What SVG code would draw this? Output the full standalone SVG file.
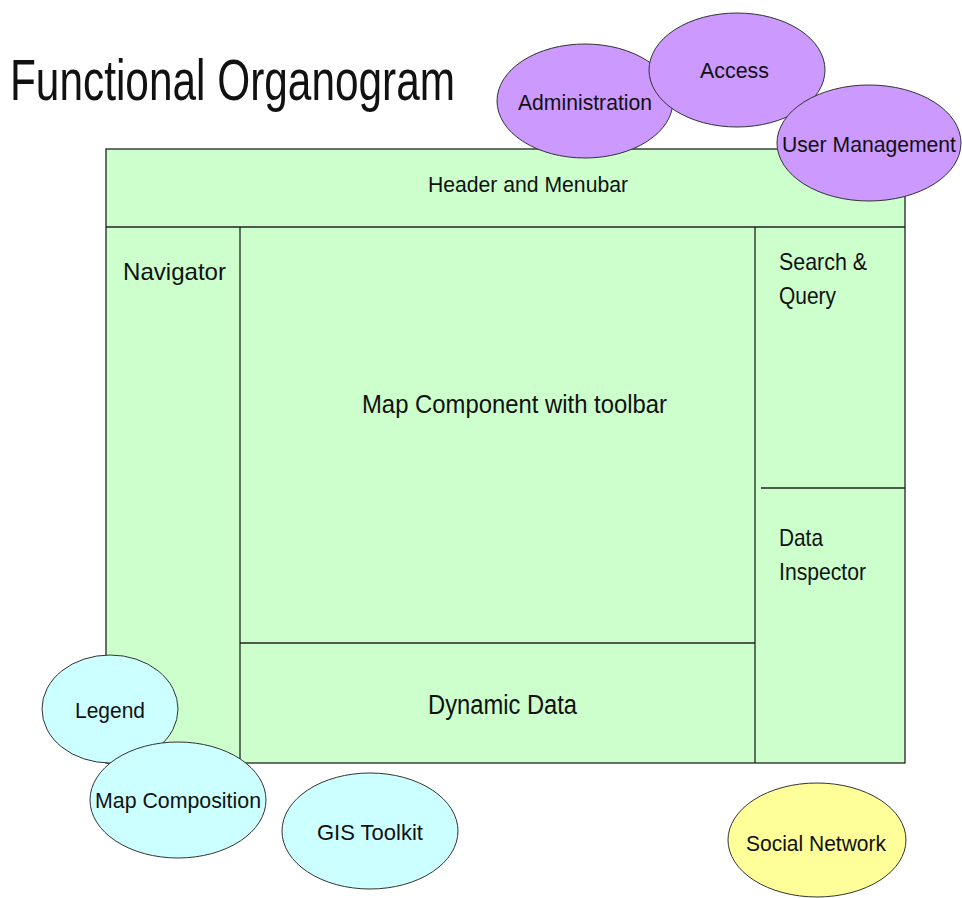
<svg xmlns="http://www.w3.org/2000/svg" width="962" height="898" viewBox="0 0 962 898">
<style>
text{font-family:"Liberation Sans",Arial,sans-serif;fill:#111;}
.panel{fill:#CCFFCC;stroke:#222;stroke-width:1.3;}
.line{stroke:#222;stroke-width:1.3;fill:none;}
.purple{fill:#CC99FF;stroke:#333;stroke-width:1;}
.cyan{fill:#CCFFFF;stroke:#333;stroke-width:1;}
.yellow{fill:#FFFF99;stroke:#333;stroke-width:1;}
.t22{font-size:22px;}
</style>
<rect width="962" height="898" fill="#fff"/>
<text x="10" y="100" font-size="58" textLength="445" lengthAdjust="spacingAndGlyphs">Functional Organogram</text>
<g id="layout">
<rect class="panel" x="106" y="149" width="799" height="614"/>
<line class="line" x1="106" y1="227" x2="905" y2="227"/>
<line class="line" x1="240" y1="227" x2="240" y2="763"/>
<line class="line" x1="755" y1="227" x2="755" y2="763"/>
<line class="line" x1="240" y1="643" x2="755" y2="643"/>
<line class="line" x1="761" y1="488" x2="905" y2="488"/>
</g>
<g id="header"><text class="t22" x="428" y="192" textLength="200" lengthAdjust="spacingAndGlyphs">Header and Menubar</text></g>
<g id="navigator"><text x="123" y="280" font-size="24" textLength="103" lengthAdjust="spacingAndGlyphs">Navigator</text></g>
<g id="map"><text x="362" y="413" font-size="25" textLength="305" lengthAdjust="spacingAndGlyphs">Map Component with toolbar</text></g>
<g id="search"><text x="779" y="270" font-size="24" textLength="88" lengthAdjust="spacingAndGlyphs">Search &amp;</text><text x="779" y="304" font-size="24" textLength="57" lengthAdjust="spacingAndGlyphs">Query</text></g>
<g id="inspector"><text x="779" y="546" font-size="24" textLength="44" lengthAdjust="spacingAndGlyphs">Data</text><text x="779" y="580" font-size="24" textLength="87" lengthAdjust="spacingAndGlyphs">Inspector</text></g>
<g id="dynamic"><text x="428" y="714" font-size="27" textLength="149" lengthAdjust="spacingAndGlyphs">Dynamic Data</text></g>
<g id="administration"><ellipse class="purple" cx="585" cy="101" rx="88" ry="57"/><text class="t22" x="518" y="110" textLength="134" lengthAdjust="spacingAndGlyphs">Administration</text></g>
<g id="access"><ellipse class="purple" cx="737" cy="70" rx="88" ry="57"/><text class="t22" x="700" y="78" textLength="69" lengthAdjust="spacingAndGlyphs">Access</text></g>
<g id="usermanagement"><ellipse class="purple" cx="869" cy="143" rx="92" ry="58"/><text class="t22" x="782" y="152" textLength="174" lengthAdjust="spacingAndGlyphs">User Management</text></g>
<g id="legend"><ellipse class="cyan" cx="110" cy="709" rx="68" ry="54"/><text class="t22" x="75" y="718" textLength="70" lengthAdjust="spacingAndGlyphs">Legend</text></g>
<g id="mapcomposition"><ellipse class="cyan" cx="178" cy="800" rx="88" ry="58"/><text class="t22" x="95" y="808" textLength="166" lengthAdjust="spacingAndGlyphs">Map Composition</text></g>
<g id="gistoolkit"><ellipse class="cyan" cx="370" cy="831" rx="88" ry="58"/><text class="t22" x="317" y="840" textLength="106" lengthAdjust="spacingAndGlyphs">GIS Toolkit</text></g>
<g id="socialnetwork"><ellipse class="yellow" cx="817" cy="840" rx="89" ry="57"/><text class="t22" x="746" y="851" textLength="140" lengthAdjust="spacingAndGlyphs">Social Network</text></g>
<g id="connectors"></g>
</svg>
